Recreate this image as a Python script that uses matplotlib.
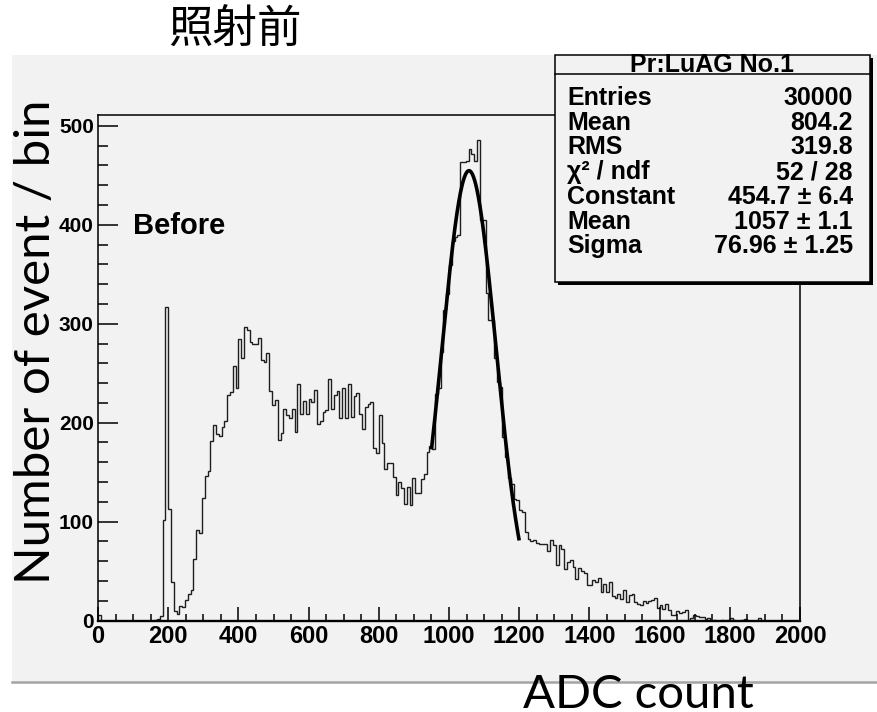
import numpy as np
import matplotlib
matplotlib.use("Agg")
import matplotlib.pyplot as plt
from matplotlib.patches import Rectangle
from matplotlib.lines import Line2D
from matplotlib.ticker import MultipleLocator

# ADC histogram, 250 bins of width 8 over 0-2000
bin_edges = np.arange(0, 2001, 8)
counts = [
    6, 0, 0, 0, 0, 0, 0, 0, 0, 0,
    0, 0, 0, 0, 0, 0, 0, 0, 0, 0,
    1, 2, 5, 102, 317, 113, 39, 10, 7, 15,
    14, 21, 27, 31, 62, 91, 88, 124, 146, 151,
    181, 198, 189, 187, 196, 202, 228, 231, 257, 235,
    285, 265, 297, 294, 282, 280, 280, 286, 263, 261,
    270, 232, 218, 223, 182, 190, 214, 208, 205, 214,
    191, 239, 209, 222, 209, 224, 221, 233, 199, 202,
    211, 213, 244, 214, 228, 232, 205, 235, 205, 239,
    206, 227, 230, 209, 194, 216, 219, 221, 174, 169,
    208, 179, 153, 159, 159, 145, 127, 140, 134, 118,
    135, 117, 144, 129, 129, 143, 148, 170, 176, 173,
    229, 235, 271, 314, 330, 359, 384, 388, 390, 463,
    463, 464, 477, 472, 464, 486, 405, 405, 331, 304,
    304, 265, 241, 236, 186, 165, 144, 138, 123, 122,
    112, 110, 89, 82, 80, 81, 78, 77, 77, 77,
    70, 81, 76, 56, 76, 72, 52, 59, 61, 54,
    42, 53, 50, 48, 36, 36, 41, 39, 43, 29,
    37, 29, 39, 25, 23, 27, 22, 31, 19, 26,
    27, 19, 17, 16, 20, 18, 20, 21, 23, 13,
    16, 12, 17, 11, 6, 6, 10, 8, 9, 11,
    1, 3, 6, 5, 4, 4, 2, 3, 0, 1,
    0, 0, 1, 0, 1, 3, 1, 0, 0, 1,
    2, 0, 0, 0, 0, 3, 0, 0, 0, 0,
    0, 0, 0, 0, 0, 0, 0, 0, 0, 0,
]

# gaussian fit parameters and range
fit_const = 454.7
fit_mean = 1057
fit_sigma = 76.96
fit_range = (950, 1200)

stat_title = "Pr:LuAG No.1"
stat_names = ["Entries", "Mean", "RMS", "\u03c7\u00b2 / ndf", "Constant", "Mean", "Sigma"]
stat_values = ["30000", "804.2", "319.8", "52 / 28",
               "454.7 \u00b1 6.4", "1057 \u00b1 1.1", "76.96 \u00b1 1.25"]

W, H = 877, 712
PAD = "#f2f2f2"
ROOTFONT = "Liberation Sans"


def fx(px):
    return px / W


def fy(py):
    return 1 - py / H


fig = plt.figure(figsize=(W / 100, H / 100), dpi=100, facecolor="white")

# grey canvas behind the frame
fig.patches.append(Rectangle((fx(12), fy(682)), fx(877) - fx(12), fy(55) - fy(682),
                             transform=fig.transFigure, facecolor=PAD,
                             edgecolor="none", zorder=-2))
fig.lines.append(Line2D([fx(12), 1], [fy(682), fy(682)], transform=fig.transFigure,
                        color="#a4a4a4", lw=1.8, zorder=-1))

ax = fig.add_axes([fx(98), fy(620.5), fx(800) - fx(98), fy(115) - fy(620.5)])
ax.set_facecolor(PAD)
ax.set_xlim(0, 2000)
ax.set_ylim(0, 511)

ax.stairs(counts, bin_edges, color="#1e1e1e", lw=1.0)

xf = np.linspace(fit_range[0], fit_range[1], 300)
yf = fit_const * np.exp(-0.5 * ((xf - fit_mean) / fit_sigma) ** 2)
ax.plot(xf, yf, color="black", lw=2.6, solid_capstyle="butt")

ax.text(100, 399, "Before", fontsize=21, fontweight="bold", family=ROOTFONT,
        va="center", ha="left")

ax.xaxis.set_major_locator(MultipleLocator(200))
ax.xaxis.set_minor_locator(MultipleLocator(50))
ax.yaxis.set_major_locator(MultipleLocator(100))
ax.yaxis.set_minor_locator(MultipleLocator(20))
ax.tick_params(axis="x", which="major", direction="in", length=10, width=1.1, pad=3.5)
ax.tick_params(axis="x", which="minor", direction="in", length=5, width=1.1)
ax.tick_params(axis="y", which="major", direction="in", length=14.5, width=1.1, pad=3)
ax.tick_params(axis="y", which="minor", direction="in", length=7.5, width=1.1)
for lab in ax.get_xticklabels():
    lab.set_fontfamily(ROOTFONT)
    lab.set_fontweight("bold")
    lab.set_fontsize(17)
for lab in ax.get_yticklabels():
    lab.set_fontfamily(ROOTFONT)
    lab.set_fontweight("bold")
    lab.set_fontsize(15)
for name, sp in ax.spines.items():
    sp.set_linewidth(1.1)
ax.spines["bottom"].set_linewidth(1.7)

# statistics box with drop shadow
bx0, bx1, by0, by1 = 555, 870, 55, 282
fig.patches.append(Rectangle((fx(bx0 + 3), fy(by1 + 3)), fx(bx1) - fx(bx0), fy(by0) - fy(by1),
                             transform=fig.transFigure, facecolor="black",
                             edgecolor="none", zorder=3))
fig.patches.append(Rectangle((fx(bx0), fy(by1)), fx(bx1) - fx(bx0), fy(by0) - fy(by1),
                             transform=fig.transFigure, facecolor=PAD,
                             edgecolor="black", lw=1.1, zorder=4))
fig.lines.append(Line2D([fx(bx0), fx(bx1)], [fy(74), fy(74)],
                        transform=fig.transFigure, color="black", lw=1.1, zorder=5))
fig.text(fx(712), fy(65), stat_title, fontsize=18, fontweight="bold", family=ROOTFONT,
         ha="center", va="center", zorder=6)
row_y = [98, 122.5, 147, 172.5, 197.5, 222, 246]
for name, val, ry in zip(stat_names, stat_values, row_y):
    fig.text(fx(567), fy(ry), name, fontsize=18, fontweight="bold", family=ROOTFONT,
             ha="left", va="center", zorder=6)
    fig.text(fx(853), fy(ry), val, fontsize=18, fontweight="bold", family=ROOTFONT,
             ha="right", va="center", zorder=6)

# titles
fig.text(fx(235), fy(30), "照射前", fontsize=32, family=["Noto Sans CJK JP", "DejaVu Sans"],
         ha="center", va="center")
fig.text(fx(36), fy(342), "Number of event / bin", fontsize=35.5, family="Lato",
         rotation=90, ha="center", va="center")
fig.text(fx(638), fy(708), "ADC count", fontsize=34, family="Lato",
         ha="center", va="baseline")

fig.savefig("out.png", dpi=100, facecolor="white")
